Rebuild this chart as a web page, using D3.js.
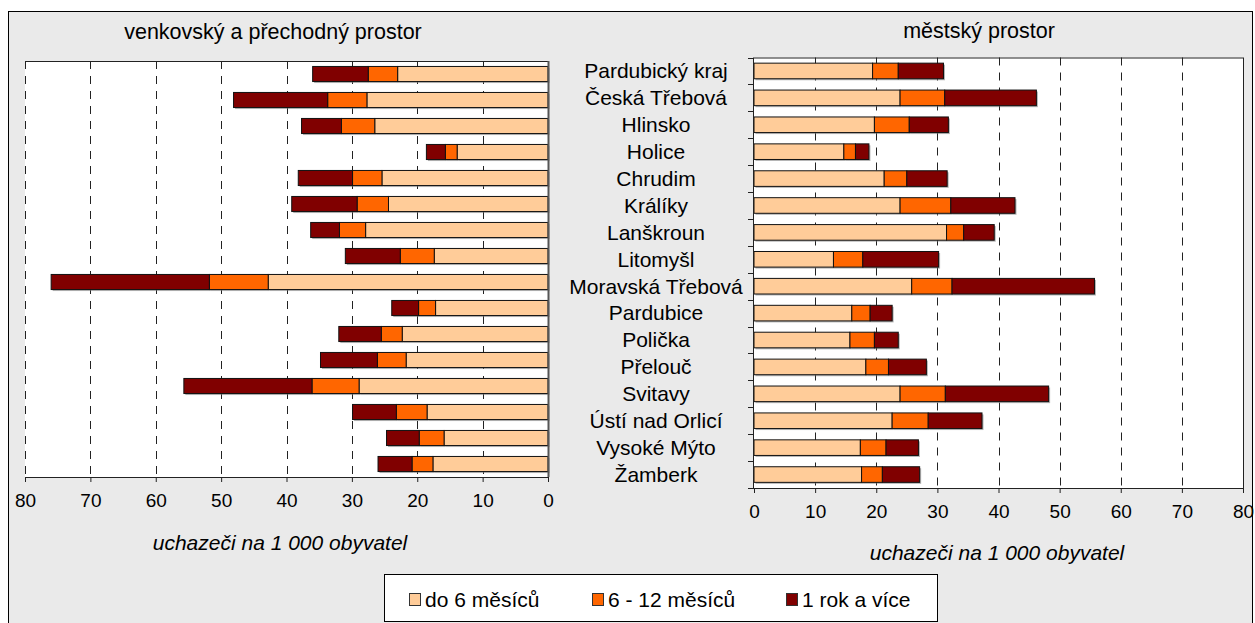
<!DOCTYPE html>
<html>
<head>
<meta charset="utf-8">
<script src="https://cdn.jsdelivr.net/npm/d3@7"></script>
<style>
  html, body { margin: 0; padding: 0; background: #ffffff; }
  svg text { font-family: "Liberation Sans", Arial, sans-serif; fill: #000; }
</style>
</head>
<body>
<svg id="chart" width="1255" height="623"></svg>
<script>
// ---- data ----
const categories = ["Pardubický kraj","Česká Třebová","Hlinsko","Holice","Chrudim","Králíky","Lanškroun","Litomyšl","Moravská Třebová","Pardubice","Polička","Přelouč","Svitavy","Ústí nad Orlicí","Vysoké Mýto","Žamberk"];
const seriesNames = ["do 6 měsíců","6 - 12 měsíců","1 rok a více"];
const seriesKeys = ["short","mid","long"];
const seriesColors = ["#FFCC99","#FF6600","#800000"];

// venkovský a přechodný prostor
const ruralShort = [23.0,27.7,26.5,13.9,25.4,24.4,27.9,17.4,42.8,17.2,22.3,21.7,28.9,18.5,15.9,17.6];
const ruralMid   = [4.5,6.0,5.1,1.8,4.5,4.8,4.0,5.2,9.0,2.6,3.2,4.4,7.2,4.7,3.8,3.2];
const ruralLong  = [8.5,14.4,6.1,2.9,8.3,10.0,4.4,8.4,24.2,4.1,6.5,8.7,19.6,6.7,5.0,5.2];

// městský prostor
const urbanShort = [19.4,23.9,19.7,14.7,21.3,23.9,31.5,13.0,25.8,16.0,15.7,18.3,23.9,22.6,17.4,17.6];
const urbanMid   = [4.2,7.3,5.7,1.9,3.7,8.3,2.8,4.8,6.6,3.0,4.0,3.7,7.4,5.9,4.2,3.4];
const urbanLong  = [7.4,15.0,6.4,2.2,6.6,10.5,5.0,12.4,23.3,3.6,3.9,6.2,16.9,8.8,5.3,6.1];

const tickValues = [0,10,20,30,40,50,60,70,80];
const titleLeft = "venkovský a přechodný prostor";
const titleRight = "městský prostor";
const axisTitle = "uchazeči na 1 000 obyvatel";

// ---- build ----
const svg = d3.select("#chart");

// outer frame
svg.append("rect").attr("x", 8.5).attr("y", 11.5).attr("width", 1244).attr("height", 620)
  .attr("fill", "#EAEAEA").attr("stroke", "#000").attr("stroke-width", 1);

function makeRows(a, b, c) {
  return categories.map((cat, i) => ({cat, short: a[i], mid: b[i], long: c[i]}));
}
const stack = d3.stack().keys(seriesKeys);

function panel(opts) {
  const {x, y, rows, leftSide} = opts;
  const g = svg.append("g");
  const [x0, x1] = [Math.min(...x.range()), Math.max(...x.range())];
  const [y0, y1] = y.range();
  g.append("rect").attr("x", x0).attr("y", y0).attr("width", x1 - x0).attr("height", y1 - y0)
    .attr("fill", "#fff");
  const gridVals = leftSide ? tickValues.filter(v => v > 0) : tickValues.filter(v => v > 0 && v < 80);
  g.selectAll(".grid").data(gridVals).join("line")
    .attr("x1", d => Math.round(x(d)) + 0.5).attr("x2", d => Math.round(x(d)) + 0.5)
    .attr("y1", y0).attr("y2", y1)
    .attr("stroke", "#222").attr("stroke-width", 1).attr("stroke-dasharray", "8,7");
  const layers = stack(rows);
  const bh = y.bandwidth();
  layers.forEach((layer) => {
    g.selectAll(null).data(layer).join("rect")
      .attr("x", d => Math.min(x(d[0]), x(d[1])) + 1.5)
      .attr("y", d => y(d.data.cat) + 1.5)
      .attr("width", d => Math.abs(x(d[1]) - x(d[0])))
      .attr("height", bh)
      .attr("fill", "#777").attr("opacity", 0.55);
  });
  layers.forEach((layer, li) => {
    g.selectAll(null).data(layer).join("rect")
      .attr("x", d => Math.min(x(d[0]), x(d[1])))
      .attr("y", d => y(d.data.cat))
      .attr("width", d => Math.abs(x(d[1]) - x(d[0])))
      .attr("height", bh)
      .attr("fill", seriesColors[li])
      .attr("stroke", "#111").attr("stroke-width", 1);
  });
  g.append("line").attr("x1", x0).attr("x2", x1).attr("y1", y0 + 0.5).attr("y2", y0 + 0.5)
    .attr("stroke", "#222");
  if (leftSide) {
    g.append("line").attr("x1", x1 + 0.5).attr("x2", x1 + 0.5).attr("y1", y0).attr("y2", y1)
      .attr("stroke", "#555").attr("stroke-width", 2);
  } else {
    g.append("line").attr("x1", x1 + 0.5).attr("x2", x1 + 0.5).attr("y1", y0).attr("y2", y1)
      .attr("stroke", "#222");
    g.append("line").attr("x1", x0 - 0.5).attr("x2", x0 - 0.5).attr("y1", y0).attr("y2", y1)
      .attr("stroke", "#222");
    const bounds = d3.range(categories.length + 1).map(i => y0 + i * y.step());
    g.selectAll(".yt").data(bounds).join("line")
      .attr("x1", x0 - 6).attr("x2", x0).attr("y1", d => Math.round(d) + 0.5).attr("y2", d => Math.round(d) + 0.5)
      .attr("stroke", "#222");
  }
  const ax = g.append("g").attr("transform", `translate(0,${y1})`)
    .call(d3.axisBottom(x).tickValues(tickValues).tickSize(5).tickSizeOuter(0).tickPadding(12));
  ax.select(".domain").attr("stroke", "#222");
  ax.selectAll(".tick line").attr("stroke", "#222");
  ax.selectAll(".tick text").attr("font-size", 19).attr("font-family", "Liberation Sans, Arial, sans-serif").attr("fill", "#000");
  return g;
}

const xL = d3.scaleLinear().domain([0, 80]).range([548, 25]);
const yL = d3.scaleBand().domain(categories).range([61, 477]).paddingInner(0.42).paddingOuter(0.21);
panel({x: xL, y: yL, rows: makeRows(ruralShort, ruralMid, ruralLong), leftSide: true});

const xR = d3.scaleLinear().domain([0, 80]).range([754, 1243]);
const yR = d3.scaleBand().domain(categories).range([57.5, 488]).paddingInner(0.42).paddingOuter(0.21);
panel({x: xR, y: yR, rows: makeRows(urbanShort, urbanMid, urbanLong), leftSide: false});

// category labels
svg.append("g").selectAll("text").data(categories).join("text")
  .attr("x", 656).attr("y", d => yR(d) + yR.bandwidth() / 2)
  .attr("dy", "0.35em").attr("text-anchor", "middle").attr("font-size", 21)
  .text(d => d);

// titles
svg.append("text").attr("x", 273).attr("y", 39).attr("text-anchor", "middle").attr("font-size", 21.5).text(titleLeft);
svg.append("text").attr("x", 979).attr("y", 38).attr("text-anchor", "middle").attr("font-size", 21.5).text(titleRight);

// axis titles
svg.append("text").attr("x", 280).attr("y", 550).attr("text-anchor", "middle").attr("font-size", 21)
  .attr("font-style", "italic").text(axisTitle);
svg.append("text").attr("x", 997).attr("y", 560).attr("text-anchor", "middle").attr("font-size", 21)
  .attr("font-style", "italic").text(axisTitle);

// legend
const lg = svg.append("g");
lg.append("rect").attr("x", 384.5).attr("y", 574.5).attr("width", 553).attr("height", 47)
  .attr("fill", "#fff").attr("stroke", "#000");
const legendX = [409, 592, 786];
seriesNames.forEach((name, i) => {
  lg.append("rect").attr("x", legendX[i] + 0.5).attr("y", 593.5).attr("width", 11).attr("height", 12)
    .attr("fill", seriesColors[i]).attr("stroke", "#333");
  lg.append("text").attr("x", legendX[i] + 16).attr("y", 607).attr("font-size", 21).text(name);
});
</script>
</body>
</html>
